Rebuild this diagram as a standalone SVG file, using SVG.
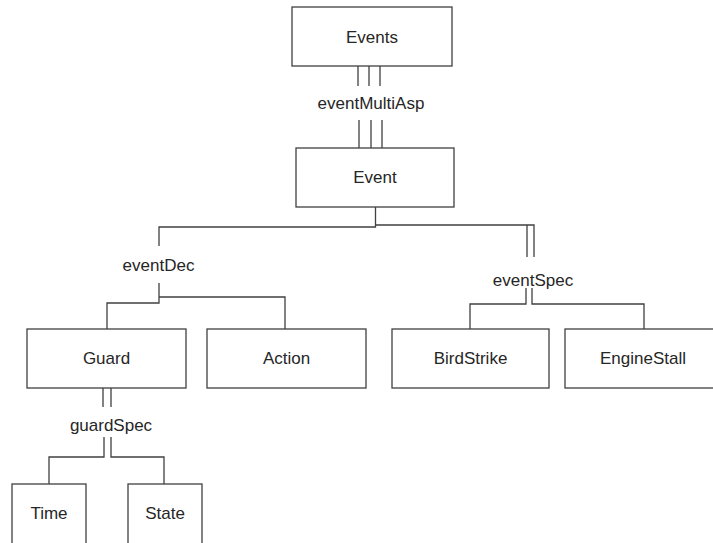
<svg xmlns="http://www.w3.org/2000/svg" width="713" height="543" viewBox="0 0 713 543">
<style>
.box{fill:#fff;stroke:#404040;stroke-width:1.3}
.lbl{font-family:"Liberation Sans",Arial,sans-serif;font-size:17px;fill:#262626;text-anchor:middle}
.ln{fill:none;stroke:#404040;stroke-width:1.3}
</style>
<rect width="713" height="543" fill="#fff"/>
<g id="connectors">
<path class="ln" d="M358 66V86M369 66V86M380 66V86"/>
<path class="ln" d="M359 120V148M371 120V148M382 120V148"/>
<path class="ln" d="M375.5 207V227H159V246"/>
<path class="ln" d="M375.5 225H534V257M527 225V257"/>
<path class="ln" d="M159 283V303H107V329M159 297H285V329"/>
<path class="ln" d="M526 288V304H470V329M532 288V304H644V329"/>
<path class="ln" d="M103 388V407M111 388V407"/>
<path class="ln" d="M104 437V457H49V484M111 437V457H164V484"/>
</g>
<g id="lbl-eventMultiAsp"><text class="lbl" x="371" y="109">eventMultiAsp</text></g>
<g id="lbl-eventDec"><text class="lbl" x="158.5" y="271">eventDec</text></g>
<g id="lbl-eventSpec"><text class="lbl" x="533" y="286">eventSpec</text></g>
<g id="lbl-guardSpec"><text class="lbl" x="111" y="431">guardSpec</text></g>
<g id="events"><rect class="box" x="292" y="7" width="160" height="59"/><text class="lbl" x="372" y="43">Events</text></g>
<g id="event"><rect class="box" x="296" y="148" width="158" height="59"/><text class="lbl" x="375" y="183">Event</text></g>
<g id="guard"><rect class="box" x="27" y="329" width="159" height="59"/><text class="lbl" x="106.5" y="364">Guard</text></g>
<g id="action"><rect class="box" x="207" y="329" width="159" height="59"/><text class="lbl" x="286.5" y="364">Action</text></g>
<g id="birdstrike"><rect class="box" x="392" y="329" width="157" height="59"/><text class="lbl" x="470.5" y="364">BirdStrike</text></g>
<g id="enginestall"><rect class="box" x="565" y="329" width="158" height="59"/><text class="lbl" x="643" y="364">EngineStall</text></g>
<g id="time"><rect class="box" x="12" y="484" width="74" height="70"/><text class="lbl" x="49" y="519">Time</text></g>
<g id="state"><rect class="box" x="128" y="484" width="74" height="70"/><text class="lbl" x="165" y="519">State</text></g>
</svg>
